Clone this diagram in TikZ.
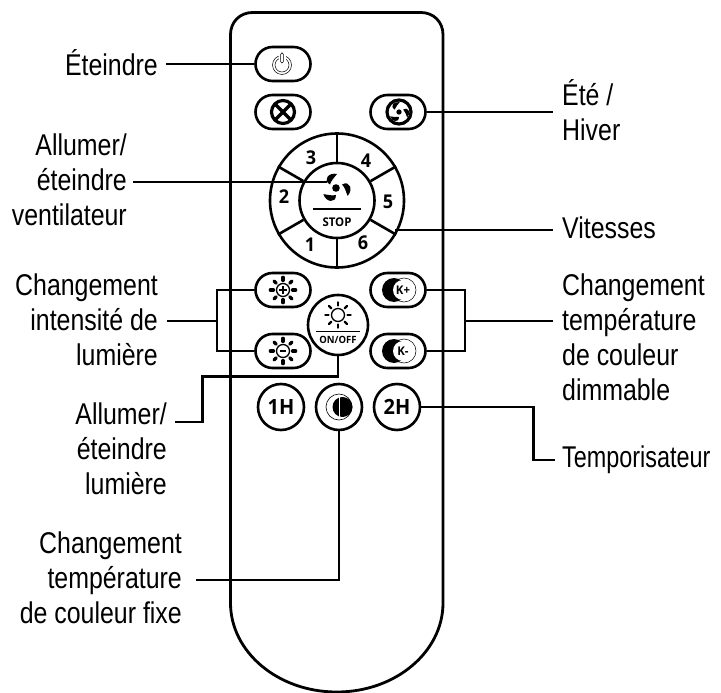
\documentclass[tikz,border=0pt]{standalone}
\usepackage{fontspec}
\setmainfont[FakeStretch=0.83]{Liberation Sans}
\newfontfamily\btnfont[FakeStretch=0.95]{Open Sans}
\newfontfamily\narrowfont[FakeStretch=0.78]{Liberation Sans}
\usetikzlibrary{calc}
\newcommand{\fl}[1]{\rule{0pt}{22pt}\smash{#1}}
\newcommand{\fanicon}[3]{% x,y,scale
  \begin{scope}[shift={(#1,#2)},scale=#3]
    \foreach \r in {0,120,240}{
      \fill[black,rotate=\r] (1,-14) .. controls (-7,-16) and (-14,-8) .. (-6,-3.5) .. controls (-5,-7.5) and (-2,-10) .. (1,-14) -- cycle;
    }
    \fill[black] (0,0) circle (3.8);
  \end{scope}}
\newcommand{\sunicon}[5]{% x,y,inner r,ray width,ray scale
  \begin{scope}[shift={(#1,#2)}]
    \draw[line width=1.3pt] (0,0) circle (#3);
    \foreach \a in {0,45,...,315}{
      \draw[line width=#4,line cap=round,rotate=\a] (#3+3,0) -- (#3+3+#5,0);
    }
  \end{scope}}
\newcommand{\kicon}[3]{% x,y,text
  \fill[black] (#1-4,#2) circle (12);
  \draw[line width=0.5pt] (#1+6,#2) circle (12);
  \fill[white] (#1+5,#2) circle (10);
  \node[btntext,font=\btnfont\bfseries\fontsize{12}{12}\selectfont] (#3) at (#1+5,#2) {K#3};}
\tikzset{
  conn/.style={line width=2.3pt,draw=black,line cap=butt},
  btnpill/.style={draw=black,line width=2.6pt,rectangle,rounded corners=17pt,minimum width=55pt,minimum height=34pt,inner sep=0pt,fill=white},
  btnround/.style={draw=black,line width=2.6pt,circle,minimum size=46pt,inner sep=0pt,fill=white},
  btntext/.style={inner sep=0pt,text=black},
  lblR/.style={anchor=north east,inner sep=0pt,align=right,font=\fontsize{30}{35}\selectfont},
  lblL/.style={anchor=north west,inner sep=0pt,align=left,font=\fontsize{30}{35}\selectfont},
  wheelnum/.style={btntext,font=\btnfont\bfseries\fontsize{19}{19}\selectfont},
}
\begin{document}
\begin{tikzpicture}[x=1pt,y=-1pt]
\useasboundingbox (0,0) rectangle (721,693);
% labels
\node[lblR] (lEt) at (158,53) {\fl{Éteindre}};
\node[lblR] (lVen) at (127,133) {\fl{Allumer/}\\éteindre\\ventilateur};
\node[lblR] (lInt) at (158,273) {\fl{Changement}\\intensité de\\lumière};
\node[lblR] (lLum) at (167,402) {\fl{Allumer/}\\éteindre\\lumière};
\node[lblR] (lFix) at (182,531) {\fl{Changement}\\température\\de couleur fixe};
\node[lblL] (lEte) at (562,83) {\fl{Été /}\\Hiver};
\node[lblL] (lVit) at (562,216) {\fl{Vitesses}};
\node[lblL] (lDim) at (562,273) {\fl{Changement}\\température\\de couleur\\dimmable};
\node[lblL] (lTmp) at (562,445) {\fl{\narrowfont Temporisateur}};
% buttons
\node[btnpill] (power) at (283,64) {};
\node[btnpill] (mute) at (283,112) {};
\node[btnpill] (season) at (398,112) {};
\node[btnpill] (sunp) at (283,290) {};
\node[btnpill] (sunm) at (283,351) {};
\node[btnpill] (kp) at (398,290) {};
\node[btnpill] (km) at (398,351) {};
\node[circle,draw=black,line width=2.6pt,minimum size=134pt,inner sep=0pt] (wheel) at (337,200.5) {};
\node[circle,draw=black,line width=2.6pt,minimum size=75pt,inner sep=0pt] (hub) at (337,200.5) {};
\node[circle,draw=black,line width=2.6pt,minimum size=60pt,inner sep=0pt,fill=white] (onoff) at (338,325) {};
\node[btnround] (oneh) at (281,407) {};
\node[btnround] (contrast) at (339,407) {};
\node[btnround] (twoh) at (397,407) {};
% body
\draw[line width=2.8pt,draw=black] (230.5,603) -- (230.5,34.5)
  .. controls (230.5,22) and (240,12.5) .. (252.5,12.5) -- (421,12.5)
  .. controls (433.5,12.5) and (443,22) .. (443,34.5) -- (443,603)
  .. controls (443,652) and (395.5,692) .. (336.75,692)
  .. controls (278,692) and (230.5,652) .. (230.5,603) -- cycle;
% wheel spokes
\foreach \a in {90,30,-30,-90,-150,150}{
  \draw[line width=2.6pt] (hub.\a) -- (wheel.\a);
}
\node[wheelnum] (n3) at (311,158) {3};
\node[wheelnum] (n4) at (366,161) {4};
\node[wheelnum] (n5) at (388,202) {5};
\node[wheelnum] (n6) at (363,243) {6};
\node[wheelnum] (n1) at (310,245) {1};
\node[wheelnum] (n2) at (284,197) {2};
% connectors
\coordinate (fanend) at (327,182);
\coordinate (vitend) at (395,230);
\draw[conn] ([xshift=8pt]lEt.east |- power.west) -- (power.west);
\draw[conn] ([xshift=6pt]lVen.east |- fanend) -- (fanend);
\draw[conn] (vitend) -- ([xshift=-9pt]lVit.west |- vitend);
\draw[conn] (season.east) -- ([xshift=-9pt]lEte.west |- season.east);
\coordinate (brL) at (217,321);
\coordinate (brR) at (465,321);
\draw[conn] (sunp.west) -| (brL) |- (sunm.west);
\draw[conn] ([xshift=9pt]lInt.east |- brL) -- (brL);
\draw[conn] (kp.east) -| (brR) |- (km.east);
\draw[conn] (brR) -- ([xshift=-9pt]lDim.west |- brR);
\coordinate (lumA) at (202.5,376.5);
\draw[conn] (onoff.south) |- (lumA) |- ([xshift=8pt]lLum.east |- 0,422);
\coordinate (tmpA) at (533.5,407);
\draw[conn] (twoh.east) -- (tmpA) |- ([xshift=-7pt]lTmp.west |- 0,460);
\draw[conn] (contrast.south) |- ([xshift=14pt]lFix.east |- 0,580);
% icons
\draw[line width=0.5pt] (282,65) circle (9.5);
\draw[line width=0.5pt] (282,65) circle (7);
\fill[white] (278.5,52) rectangle (285.5,62);
\draw[line width=0.5pt,rounded corners=1.5pt,fill=white] (280.6,53) rectangle (283.4,63);
\draw[line width=3.2pt] (283,112) circle (11.5);
\draw[line width=3.2pt] (283,112) ++(-8,-8) -- ++(16,16);
\draw[line width=3.2pt] (283,112) ++(-8,8) -- ++(16,-16);
\draw[line width=3.2pt] (399,112) circle (12);
\fanicon{399}{112}{0.7}
\fanicon{336}{188}{1}
\draw[line width=2.4pt] (313,209) -- (361,209);
\node[btntext,font=\btnfont\bfseries\fontsize{12}{12}\selectfont] (stop) at (337,222) {STOP};
\sunicon{283}{290}{6.5}{3.2pt}{3.2}
\draw[line width=1.2pt] (283,286) -- (283,294) (279,290) -- (287,290);
\sunicon{283}{351}{6.5}{3.2pt}{3.2}
\draw[line width=1.2pt] (280,351) -- (286,351);
\sunicon{338}{315}{6.5}{2.2pt}{3.2}
\draw[line width=1.8pt] (316,331.5) -- (360,331.5);
\node[btntext,font=\btnfont\bfseries\fontsize{10}{10}\selectfont] (onofftxt) at (338,340) {ON/OFF};
\kicon{398}{290}{+}
\kicon{398}{351}{-}
\node[btntext,font=\btnfont\bfseries\fontsize{21}{21}\selectfont] (t1h) at (281,407) {1H};
\node[btntext,font=\btnfont\bfseries\fontsize{21}{21}\selectfont] (t2h) at (397,407) {2H};
\draw[line width=0.6pt] (339,407) circle (13);
\fill[black] (342.5,407) circle (10);
\draw[white,line width=1pt] (339,396) -- (339,418);
\end{tikzpicture}
\end{document}
